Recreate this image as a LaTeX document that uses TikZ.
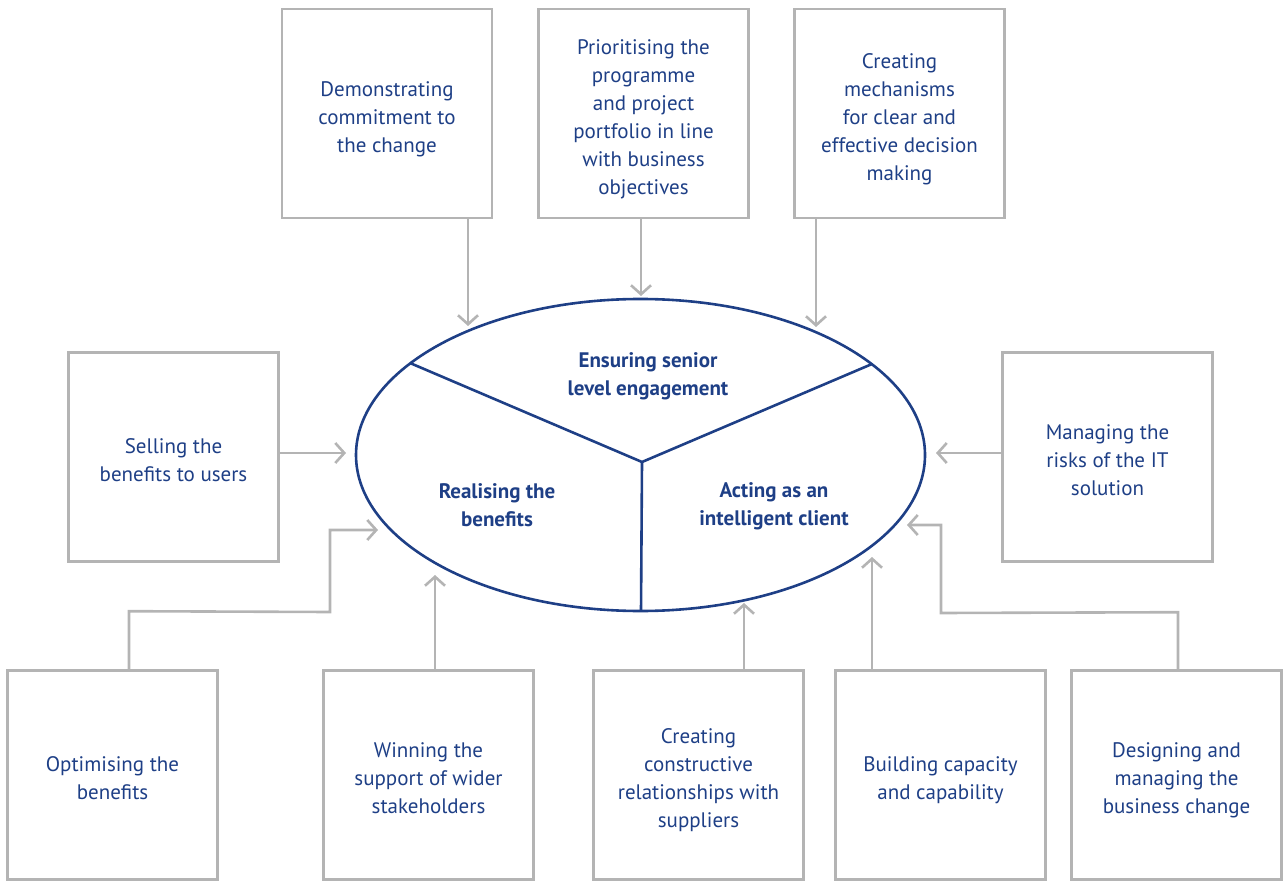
\documentclass[tikz,border=0pt]{standalone}
\usepackage{fontspec}
\setmainfont{PT Sans}
\usetikzlibrary{arrows.meta,shapes.geometric}
\definecolor{navy}{HTML}{1E3F86}
\definecolor{frame}{HTML}{B4B4B4}
% box captions sit slightly below the geometric centre of their frame
\newcommand{\lowered}[1]{\raisebox{-5pt}[\height][\depth]{\begin{tabular}{@{}c@{}}#1\end{tabular}}}
\begin{document}
\begin{tikzpicture}[x=1pt,y=-1pt,
  box/.style={draw=frame, line width=2.6pt, minimum width=210pt, minimum height=209pt,
    inner sep=0pt, align=center, text=navy, font=\fontsize{21}{28}\selectfont},
  hublabel/.style={align=center, text=navy, font=\bfseries\fontsize{21}{28}\selectfont},
  feed/.style={draw=frame, line width=2.6pt,
    -{Straight Barb[length=9pt,width=20pt,line width=2.6pt]}},
  divider/.style={draw=navy, line width=2.6pt}
]
\useasboundingbox (0,0) rectangle (1284,882);

% central ellipse split into three sectors
\node[ellipse, draw=navy, line width=2.6pt, minimum width=569pt, minimum height=312pt, inner sep=0pt]
  (hub) at (640.5,455) {};
\coordinate (core) at (642,462);
\coordinate (rimL) at (410,363);
\coordinate (rimR) at (872,364);
\coordinate (rimB) at (641,611);
\draw[divider] (rimL) -- (core) -- (rimR);
\draw[divider] (core) -- (rimB);

\node[hublabel] (senior) at (648,376) {Ensuring senior\\level engagement};
\node[hublabel] (realise) at (497,505) {Realising the\\benefits};
\node[hublabel] (client) at (774,506) {Acting as an\\intelligent client};

% surrounding activity boxes
\node[box] (demo) at (387,113.5) {\lowered{Demonstrating\\commitment to\\the change}};
\node[box] (prio) at (643.5,113.5) {\lowered{Prioritising the\\programme\\and project\\portfolio in line\\with business\\objectives}};
\node[box] (mech) at (899.5,113.5) {\lowered{Creating\\mechanisms\\for clear and\\effective decision\\making}};
\node[box] (sell) at (173.5,457) {\lowered{Selling the\\benefits to users}};
\node[box] (risk) at (1107.5,457) {\lowered{Managing the\\risks of the IT\\solution}};
\node[box] (optim) at (112.5,775) {\lowered{Optimising the\\benefits}};
\node[box] (win) at (428.5,775) {\lowered{Winning the\\support of wider\\stakeholders}};
\node[box] (constr) at (698.5,775) {\lowered{Creating\\constructive\\relationships with\\suppliers}};
\node[box] (build) at (940.5,775) {\lowered{Building capacity\\and capability}};
\node[box] (design) at (1176.5,775) {\lowered{Designing and\\managing the\\business change}};

% arrow tips just outside the ellipse
\coordinate (tDemo) at (468,326);
\coordinate (tPrio) at (641,296);
\coordinate (tMech) at (816,327);
\coordinate (tSell) at (346,453);
\coordinate (tRisk) at (936,453);
\coordinate (tOptim) at (378,530);
\coordinate (tWin) at (435,575);
\coordinate (tConstr) at (744,603);
\coordinate (tBuild) at (872,557);
\coordinate (tDesign) at (907,525);

% connectors feeding into the ellipse
\draw[feed] (demo.south -| tDemo) -- (tDemo);
\draw[feed] (prio.south -| tPrio) -- (tPrio);
\draw[feed] (mech.south -| tMech) -- (tMech);
\draw[feed] (sell.east |- tSell) -- (tSell);
\draw[feed] (risk.west |- tRisk) -- (tRisk);
\draw[feed] ([xshift=16.5pt]optim.north) -- ++(0,-58) -- (330,612) -- (330,530) -- (tOptim);
\draw[feed] (win.north -| tWin) -- (tWin);
\draw[feed] (constr.north -| tConstr) -- (tConstr);
\draw[feed] (build.north -| tBuild) -- (tBuild);
\draw[feed] ([xshift=1.5pt]design.north) -- ++(0,-57) -- (941,613) -- (941,525) -- (tDesign);
\end{tikzpicture}
\end{document}
